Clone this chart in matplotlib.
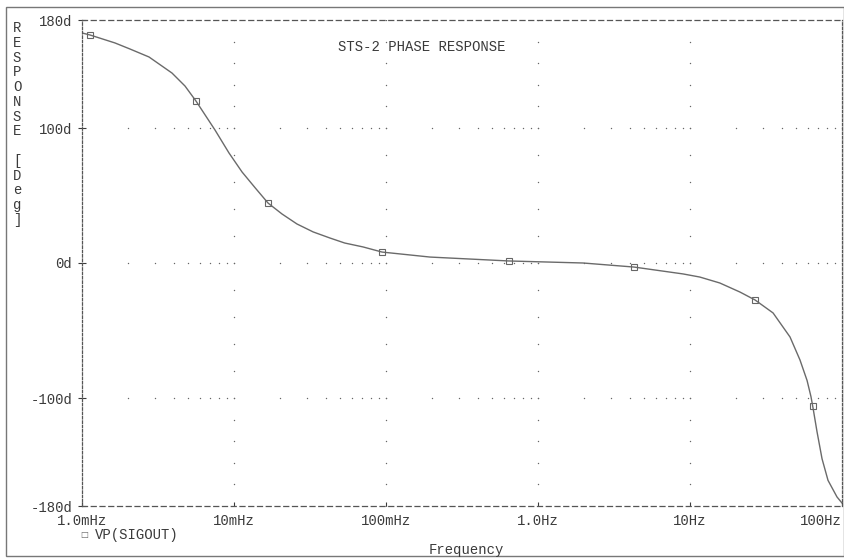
import matplotlib.pyplot as plt
import numpy as np
from matplotlib.patches import Rectangle

# phase curve (Hz, degrees)
freq = [1.0e-3, 1.129e-3, 1.648e-3, 2.07e-3, 2.76e-3, 3.91e-3, 4.76e-3, 5.62e-3,
        7.50e-3, 9.27e-3, 11.3e-3, 13.8e-3, 16.75e-3, 20.7e-3, 25.96e-3, 33.2e-3,
        42.8e-3, 53.5e-3, 70.6e-3, 94.2e-3, 0.195, 0.644, 1.98, 4.28, 9.0, 11.6,
        15.7, 21.3, 26.8, 35.2, 45.5, 52.9, 58.9, 62.5, 64.4, 68.5, 73.9, 80.9,
        92.7, 100.0]
phase = [170.4, 168.9, 163.0, 158.5, 152.6, 140.7, 131.1, 120.0,
         98.5, 81.5, 67.4, 55.6, 44.4, 36.3, 28.9, 23.0,
         18.5, 14.8, 11.9, 8.1, 4.4, 1.5, 0.0, -3.0, -8.1, -10.4,
         -14.8, -21.5, -27.4, -37.0, -54.8, -71.8, -87.0, -99.0, -107.0, -125.0, -145.0, -161.0,
         -173.3, -177.8]

# marker points on the trace
mark_freq = [1.129e-3, 5.62e-3, 16.75e-3, 94.2e-3, 0.644, 4.28, 26.8, 64.4]
mark_phase = [168.9, 120.0, 44.4, 8.1, 1.5, -3.0, -27.4, -105.9]

xticks = [1e-3, 1e-2, 1e-1, 1.0, 10.0, 100.0]
xlabels = ["1.0mHz", "10mHz", "100mHz", "1.0Hz", "10Hz", "100Hz"]
yticks = [180, 100, 0, -100, -180]
ylabels = ["180d", "100d", "0d", "-100d", "-180d"]

plt.rcParams['font.family'] = ['Liberation Mono', 'DejaVu Sans Mono']
ink = '#3a3a3a'

fig = plt.figure(figsize=(8.45, 5.6), dpi=100)
ax = fig.add_axes([82/845, 1-506/560, 760/845, 486/560])

ax.set_xscale('log')
ax.set_xlim(1e-3, 100)
ax.set_ylim(-180, 180)

# dotted grid, PSpice style: dots at minor log positions / y subdivisions
gx = []
for d in xticks[:-1]:
    for m in range(1, 10):
        gx.append(d * m)
gx.append(100.0)
for yv in [100, 0, -100]:
    ax.plot(gx, [yv] * len(gx), ls='none', marker='o', ms=1.0, mew=0, color='#666666')
gy = list(np.arange(180, 100, -16)) + list(np.arange(100, -100, -20)) + list(np.arange(-100, -181, -16))
for xv in xticks[1:-1]:
    ax.plot([xv] * len(gy), gy, ls='none', marker='o', ms=1.0, mew=0, color='#666666')

ax.plot(freq, phase, color='#6a6a6a', lw=1.0)
ax.plot(mark_freq, mark_phase, ls='none', marker='s', ms=4, mfc='none', mec='#666666', mew=0.8)

for s in ['top', 'bottom']:
    ax.spines[s].set_linestyle((0, (4, 3)))
for s in ['left', 'right']:
    ax.spines[s].set_linestyle((0, (2, 1.5)))
for s in ax.spines.values():
    s.set_color('#555555')
    s.set_linewidth(0.9)

ax.set_xticks(xticks)
ax.set_xticklabels(xlabels)
ax.xaxis.set_minor_locator(plt.NullLocator())
ax.set_yticks(yticks)
ax.set_yticklabels(ylabels)
ax.tick_params(axis='x', direction='in', length=3, pad=6, labelsize=10, colors=ink)
ax.tick_params(axis='y', direction='inout', length=6, pad=4, labelsize=10, colors=ink)
ax.get_xticklabels()[-1].set_ha('right')

ax.text(0.337, 0.945, "STS-2 PHASE RESPONSE", transform=ax.transAxes,
        fontsize=10, color=ink, va='center', ha='left')

fig.text(17/845, 1-21/560, "R\nE\nS\nP\nO\nN\nS\nE\n\n[\nD\ne\ng\n]",
         fontsize=10, color=ink, va='top', ha='center', linespacing=1.07)

# legend entry
fig.text(84/845, 1-535/560, "\u25a1", fontsize=6, color='#666666', va='center', ha='center',
         family=['DejaVu Sans'])
fig.text(95/845, 1-535/560, "VP(SIGOUT)", fontsize=10, color=ink, va='center', ha='left')

fig.text(466/845, 1-550/560, "Frequency", fontsize=10, color=ink, va='center', ha='center')

# page frame of the printout
fig.patches.append(Rectangle((6/845, 1-556/560), 838/845, 549/560, transform=fig.transFigure,
                             fill=False, edgecolor='#777777', lw=1.0))

plt.savefig('out.png', dpi=100)
